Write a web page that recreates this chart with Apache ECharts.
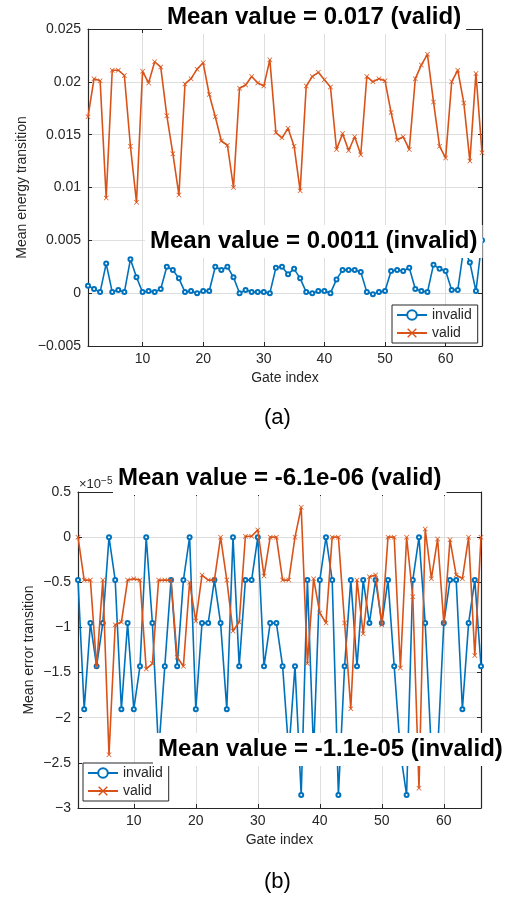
<!DOCTYPE html>
<html>
<head>
<meta charset="utf-8">
<script src="https://cdn.jsdelivr.net/npm/echarts@6/dist/echarts.min.js"></script>
<style>
  html, body { margin: 0; padding: 0; background: #fff; }
  #chart { width: 509px; height: 900px; }
</style>
</head>
<body>
<div id="chart"></div>
<script>
// gate indices (x) shared by both panels
const gates = [1, 2, 3, 4, 5, 6, 7, 8, 9, 10, 11, 12, 13, 14, 15, 16, 17, 18, 19, 20,
  21, 22, 23, 24, 25, 26, 27, 28, 29, 30, 31, 32, 33, 34, 35, 36, 37, 38, 39, 40,
  41, 42, 43, 44, 45, 46, 47, 48, 49, 50, 51, 52, 53, 54, 55, 56, 57, 58, 59, 60,
  61, 62, 63, 64, 65, 66]
const gateTicks = [10, 20, 30, 40, 50, 60]

// (a) mean energy transition
const energyInvalid = [0.0007, 0.0004, 0.0001, 0.0028, 0.0001, 0.0003, 0.0001, 0.0032, 0.0015, 0.0001,
  0.0002, 0.0001, 0.0004, 0.0025, 0.0022, 0.0014, 0.0001, 0.0002, 0.0000, 0.0002,
  0.0002, 0.0025, 0.0022, 0.0025, 0.0015, 0.0000, 0.0003, 0.0001, 0.0001, 0.0001,
  0.0000, 0.0024, 0.0025, 0.0018, 0.0023, 0.0014, 0.0001, 0.0000, 0.0002, 0.0002,
  0.0000, 0.0013, 0.0022, 0.0022, 0.0022, 0.0020, 0.0001, -0.0001, 0.0001, 0.0002,
  0.0021, 0.0022, 0.0021, 0.0024, 0.0004, 0.0002, 0.0001, 0.0027, 0.0023, 0.0021,
  0.0003, 0.0003, 0.0043, 0.0029, 0.0002, 0.0050]
const energyValid = [0.0167, 0.0203, 0.0201, 0.0090, 0.0211, 0.0211, 0.0206, 0.0139, 0.0086, 0.0210,
  0.0199, 0.0219, 0.0214, 0.0168, 0.0132, 0.0093, 0.0198, 0.0203, 0.0212, 0.0218,
  0.0188, 0.0167, 0.0144, 0.0140, 0.0100, 0.0194, 0.0197, 0.0205, 0.0199, 0.0196,
  0.0221, 0.0152, 0.0147, 0.0156, 0.0139, 0.0097, 0.0196, 0.0205, 0.0209, 0.0202,
  0.0195, 0.0136, 0.0151, 0.0135, 0.0148, 0.0131, 0.0205, 0.0200, 0.0203, 0.0201,
  0.0171, 0.0145, 0.0148, 0.0136, 0.0203, 0.0216, 0.0226, 0.0181, 0.0139, 0.0128,
  0.0200, 0.0211, 0.0180, 0.0125, 0.0208, 0.0133]

// (b) mean error transition, in units of 1e-5
const errorInvalid = [-0.476, -1.905, -0.952, -1.429, -0.952, 0, -0.476, -1.905, -0.952, -1.905,
  -1.429, 0, -0.952, -2.381, -1.429, -0.476, -1.429, -0.476, 0, -1.905,
  -0.952, -0.952, -0.476, -0.952, -1.905, 0, -1.429, -0.476, -0.476, 0,
  -1.429, -0.952, -0.952, -1.429, -2.381, -1.429, -2.857, -0.476, -2.381, -0.476,
  0, -0.476, -2.857, -1.429, -0.476, -1.429, -0.476, -0.952, -0.476, -0.952,
  -0.476, -1.429, -2.381, -2.857, -0.476, 0, -0.952, -2.381, -2.381, -0.952,
  -0.476, -0.476, -1.905, -0.952, -0.476, -1.429]
const errorValid = [0, -0.476, -0.476, -1.43, -0.476, -2.41, -0.97, -0.94, -0.476, -0.46,
  -0.476, -1.46, -1.40, -0.476, -0.476, -0.476, -1.33, -1.43, -0.50, -0.93,
  -0.42, -0.476, -0.476, 0, -0.476, -1.04, -0.94, 0.01, 0.01, 0.08,
  -0.43, 0, 0, -0.476, -0.476, 0, 0.33, -1.40, -0.46, -0.84,
  -0.95, 0, 0, -0.95, -1.90, -0.476, -1.07, -0.44, -0.42, -0.97,
  0, 0, -1.45, 0, -0.66, -2.78, 0.09, -0.46, -0.02, -0.95,
  -0.03, -0.42, -0.46, 0, -1.31, 0]

const BLUE = '#0072BD'
const ORANGE = '#D95319'
const AXIS = '#262626'
const FONT = "'Liberation Sans', Arial, Helvetica, sans-serif"
const CROSS = 'path://M0,1L1,0L5,4L9,0L10,1L6,5L10,9L9,10L5,6L1,10L0,9L4,5Z'

const pairs = (ys) => gates.map((g, i) => [g, ys[i]])
const minus = (s) => String(s).replace('-', '\u2212')

function xAxes(grid, withName) {
  const common = {
    gridIndex: grid,
    type: 'value',
    min: 1,
    max: 66,
    axisLine: { show: true, onZero: false, lineStyle: { color: AXIS, width: 1.2 } },
    axisTick: { show: true, inside: true, length: 4, customValues: gateTicks, lineStyle: { color: AXIS } },
  }
  return [
    {
      ...common,
      position: 'bottom',
      axisLabel: { customValues: gateTicks, margin: 6, fontSize: 14, color: AXIS, fontFamily: FONT },
      splitLine: { show: true, lineStyle: { color: '#dedede', width: 1 } },
      name: withName,
      nameLocation: 'middle',
      nameGap: 25,
      nameMoveOverlap: false,
      nameTextStyle: { fontSize: 14, color: AXIS, fontFamily: FONT },
    },
    { ...common, position: 'top', axisLabel: { show: false }, splitLine: { show: false } },
  ]
}

function yAxes(grid, min, max, step, name, gap, fmt) {
  const common = {
    gridIndex: grid,
    type: 'value',
    min: min,
    max: max,
    interval: step,
    axisLine: { show: true, onZero: false, lineStyle: { color: AXIS, width: 1.2 } },
    axisTick: { show: true, inside: true, length: 4, lineStyle: { color: AXIS } },
  }
  return [
    {
      ...common,
      position: 'left',
      axisLabel: { margin: 7, fontSize: 14, color: AXIS, fontFamily: FONT, formatter: fmt },
      splitLine: { show: true, lineStyle: { color: '#dedede', width: 1 } },
      name: name,
      nameLocation: 'middle',
      nameGap: gap,
      nameMoveOverlap: false,
      nameTextStyle: { fontSize: 14, color: AXIS, fontFamily: FONT },
    },
    { ...common, position: 'right', axisLabel: { show: false }, splitLine: { show: false } },
  ]
}

function lineSeries(name, data, xi, yi) {
  const isValid = name === 'valid'
  const color = isValid ? ORANGE : BLUE
  return {
    name: name,
    type: 'line',
    xAxisIndex: xi,
    yAxisIndex: yi,
    data: data,
    z: isValid ? 3 : 2,
    symbol: isValid ? CROSS : 'emptyCircle',
    symbolSize: isValid ? 5 : 4,
    showAllSymbol: true,
    lineStyle: { color: color, width: 1.6 },
    itemStyle: { color: color, borderColor: color, borderWidth: isValid ? 0 : 1.2 },
    animation: false,
  }
}

function legendAt(left, top) {
  return {
    data: ['invalid', 'valid'],
    left: left,
    top: top,
    orient: 'vertical',
    backgroundColor: '#fff',
    borderColor: AXIS,
    borderWidth: 1,
    borderRadius: 0,
    padding: [3, 6, 3, 4],
    itemGap: 4,
    itemWidth: 30,
    itemHeight: 12,
    textStyle: { fontSize: 14, color: AXIS, fontFamily: FONT },
    selectedMode: false,
  }
}

function note(text, left, top) {
  return {
    text: text,
    left: left,
    top: top,
    padding: [4, 5, 5, 5],
    backgroundColor: '#fff',
    textStyle: { fontSize: 24, fontWeight: 'bold', color: '#000', fontFamily: FONT, lineHeight: 24 },
  }
}

function caption(text, left, top) {
  return {
    text: text,
    left: left,
    top: top,
    padding: 0,
    textStyle: { fontSize: 22, fontWeight: 'normal', color: '#000', fontFamily: FONT },
  }
}

const chart = echarts.init(document.getElementById('chart'))
chart.setOption({
  animation: false,
  textStyle: { fontFamily: FONT },
  title: [
    note('Mean value = 0.017 (valid)', 162, 1),
    note('Mean value = 0.0011 (invalid)', 145, 225),
    note('Mean value = -6.1e-06 (valid)', 113, 462),
    note('Mean value = -1.1e-05 (invalid)', 153, 733),
    caption('(a)', 264, 407),
    caption('(b)', 264, 871),
  ],
  legend: [legendAt(392, 305), legendAt(83, 763)],
  grid: [
    { left: 88, top: 29, width: 394, height: 317 },
    { left: 78, top: 492, width: 403, height: 316 },
  ],
  xAxis: [...xAxes(0, 'Gate index'), ...xAxes(1, 'Gate index')],
  yAxis: [
    ...yAxes(0, -0.005, 0.025, 0.005, 'Mean energy transition', 59,
      (v) => minus(parseFloat(v.toFixed(3)))),
    ...yAxes(1, -3, 0.5, 0.5, 'Mean error transition', 42,
      (v) => minus(parseFloat(v.toFixed(1)))),
  ],
  graphic: [
    {
      type: 'text',
      left: 79,
      top: 476,
      style: {
        text: '×10{sup|\u22125}',
        font: '13px ' + FONT,
        fill: AXIS,
        rich: { sup: { fontSize: 10, verticalAlign: 'top', padding: [0, 0, 6, 0] } },
      },
    },
  ],
  series: [
    lineSeries('invalid', pairs(energyInvalid), 0, 0),
    lineSeries('valid', pairs(energyValid), 0, 0),
    lineSeries('invalid', pairs(errorInvalid), 2, 2),
    lineSeries('valid', pairs(errorValid), 2, 2),
  ],
})
</script>
</body>
</html>
